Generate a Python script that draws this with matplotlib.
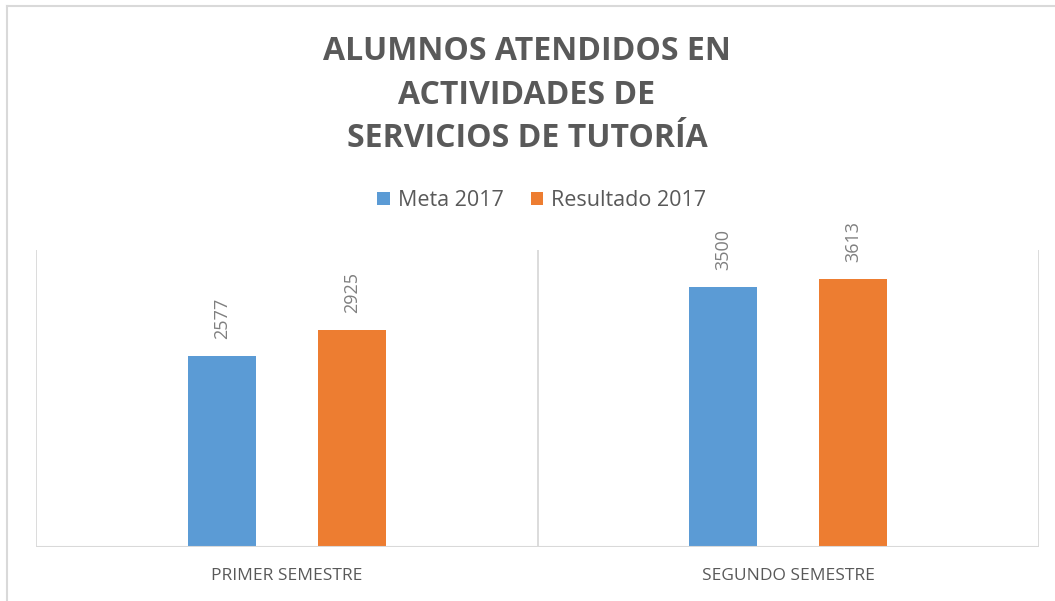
import matplotlib
matplotlib.use("Agg")
import matplotlib.pyplot as plt
from matplotlib.lines import Line2D
import numpy as np

categories = ["PRIMER SEMESTRE", "SEGUNDO SEMESTRE"]
series_names = ["Meta 2017", "Resultado 2017"]
meta = [2577, 3500]
resultado = [2925, 3613]
colors = ["#5B9BD5", "#ED7D31"]
title_lines = "ALUMNOS ATENDIDOS EN\nACTIVIDADES DE\nSERVICIOS DE TUTORÍA"

W, H = 1055, 601
fig = plt.figure(figsize=(W / 100, H / 100), dpi=100)
fig.patch.set_facecolor("white")

# outer chart border (left & top visible)
fig.add_artist(Line2D([6.5 / W, 6.5 / W], [0, 1 - 5.5 / H], transform=fig.transFigure, color="#D9D9D9", lw=1.5))
fig.add_artist(Line2D([6.5 / W, 1], [1 - 5.5 / H, 1 - 5.5 / H], transform=fig.transFigure, color="#D9D9D9", lw=1.5))

ax = fig.add_axes([36 / W, (H - 547) / H, (1039 - 36) / W, (547 - 250) / H])
x = np.arange(len(categories))
bw = 0.1355
off = 0.1295
b1 = ax.bar(x - off, meta, bw, color=colors[0], label=series_names[0], zorder=3)
b2 = ax.bar(x + off, resultado, bw, color=colors[1], label=series_names[1], zorder=3)

ax.set_xlim(-0.5, len(categories) - 0.5)
ax.set_ylim(0, 4000)
for s in ax.spines.values():
    s.set_visible(False)
ax.set_yticks([])
ax.set_xticks(x)
ax.set_xticklabels(categories, fontsize=12.5, color="#595959", family="Open Sans")
ax.tick_params(axis="x", length=0, pad=15)
# category separators and baseline
for xv in np.arange(-0.5, len(categories), 1.0):
    ax.axvline(xv, color="#D9D9D9", lw=1.3, zorder=1)
ax.axhline(0, color="#D9D9D9", lw=1.5, zorder=4)

for bars in (b1, b2):
    for r in bars:
        ax.annotate(f"{int(r.get_height())}", (r.get_x() + r.get_width() / 2, r.get_height()),
                    xytext=(0, 12), textcoords="offset points", rotation=90,
                    ha="center", va="bottom", fontsize=13, color="#7F7F7F", family="Open Sans")

fig.text(527 / W, 1 - 95 / H, title_lines, ha="center", va="center", fontsize=23,
         fontweight="bold", color="#595959", family="Open Sans", linespacing=1.42)

leg = fig.legend(handles=[b1, b2], labels=series_names, loc="center", bbox_to_anchor=(542 / W, 1 - 201 / H),
                 ncol=2, frameon=False, handlelength=0.56, handleheight=0.56,
                 handletextpad=0.37, columnspacing=1.3, prop={"family": "Open Sans", "size": 15.5})
for t in leg.get_texts():
    t.set_color("#595959")

fig.savefig("out.png", dpi=100, facecolor="white")
